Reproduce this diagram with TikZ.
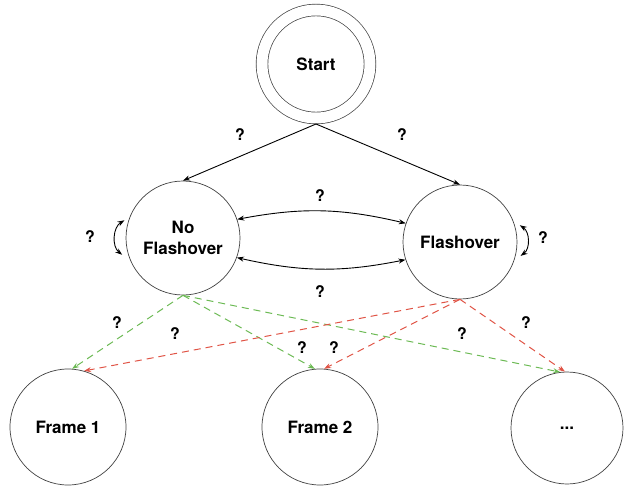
\documentclass[tikz,border=0pt]{standalone}
\usepackage{fontspec}
\setmainfont{TeX Gyre Heros}
\usepackage{xcolor}
\usetikzlibrary{positioning,arrows.meta}

\definecolor{dashgreen}{RGB}{108,186,84}
\definecolor{dashred}{RGB}{224,84,70}

\begin{document}
\begin{tikzpicture}[
    x=1pt, y=-1pt,
    state/.style={circle, draw=black!75, line width=0.7pt, minimum size=114pt, inner sep=0pt, font=\fontsize{17}{21}\selectfont\bfseries, align=center},
    arrow/.style={-{Stealth[length=7pt,width=5pt]}, line width=0.9pt, black},
    twoway/.style={{Stealth[length=7pt,width=5pt]}-{Stealth[length=7pt,width=5pt]}, line width=0.9pt, black},
    prob/.style={-{Stealth[length=7pt,width=5pt]}, line width=1pt, dash pattern=on 7pt off 5pt},
    qlabel/.style={font=\fontsize{16}{18}\selectfont\bfseries, inner sep=0pt},
]
\useasboundingbox (0,0) rectangle (624,487);

% Top: start state
\node[state, minimum size=108pt, double, double distance=11pt, outer sep=6pt] (start) at (316,64) {Start};

% Middle: hidden states
\node[state] (noflash) at (183,238) {No\\Flashover};
\node[state] (flash) at (460,242) {Flashover};

% Bottom: frames
\node[state, minimum size=116pt] (frame1) at (68,427) {Frame 1};
\node[state, minimum size=116pt] (frame2) at (320,427) {Frame 2};
\node[state, minimum size=112pt] (framen) at (567,428) {...};

% Arrows
\draw[arrow] (start.south) -- (noflash.north);
\draw[arrow] (start.south) -- (flash.north);
\draw[twoway] (noflash.19) to[bend left=12] (flash.161);
\draw[twoway] (noflash.-20) to[bend right=12] (flash.-162);
\draw[twoway] ([xshift=-4pt]noflash.162) to[bend right=55] ([xshift=-6pt]noflash.197);
\draw[twoway] ([xshift=5pt]flash.17) to[bend left=55] ([xshift=5pt]flash.-14);

% Emissions
\draw[prob, dashgreen] (noflash.south) -- (frame1.86);
\draw[prob, dashgreen] (noflash.south) -- (frame2.95);
\draw[prob, dashgreen] (noflash.south) -- (framen.97);
\draw[prob, dashred] (flash.south) -- (frame1.74);
\draw[prob, dashred] (flash.south) -- (frame2.86);
\draw[prob, dashred] (flash.south) -- (framen.92);

% Labels
\node[qlabel] (q1) at (240,135) {?};
\node[qlabel] (q2) at (402,135) {?};
\node[qlabel] (q3) at (320,196) {?};
\node[qlabel] (q4) at (320,292) {?};
\node[qlabel] (q5) at (90,237) {?};
\node[qlabel] (q6) at (543,238) {?};
\node[qlabel] (q7) at (117,323) {?};
\node[qlabel] (q8) at (175,334) {?};
\node[qlabel] (q9) at (302,348) {?};
\node[qlabel] (q10) at (334,348) {?};
\node[qlabel] (q11) at (462,334) {?};
\node[qlabel] (q12) at (526,323) {?};

\end{tikzpicture}
\end{document}
